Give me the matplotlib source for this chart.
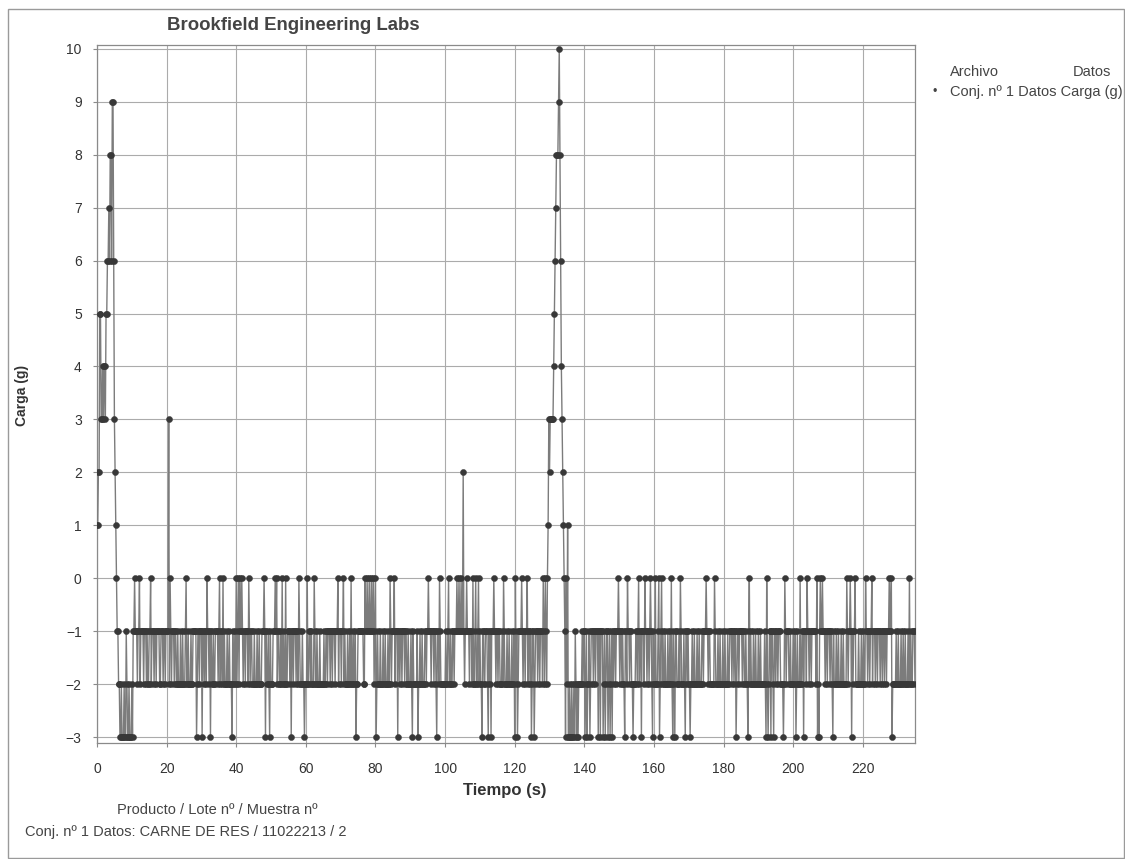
import numpy as np
import matplotlib
matplotlib.use("Agg")
import matplotlib.pyplot as plt
from matplotlib.patches import Rectangle

plt.rcParams['font.family'] = ['Liberation Sans', 'DejaVu Sans']

# ---------------- text ----------------
title = "Brookfield Engineering Labs"
x_label = "Tiempo (s)"
y_label = "Carga (g)"
x_ticks = [0, 20, 40, 60, 80, 100, 120, 140, 160, 180, 200, 220]
y_ticks = [-3, -2, -1, 0, 1, 2, 3, 4, 5, 6, 7, 8, 9, 10]
legend_header_left = "Archivo"
legend_header_right = "Datos"
legend_entry = "Conj. nº 1 Datos Carga (g)"
footer_line1 = "Producto / Lote nº / Muestra nº"
footer_line2 = "Conj. nº 1 Datos: CARNE DE RES / 11022213 / 2"

# ---------------- data ----------------
# load codes: c=-3, b=-2, a=-1, o=0, digits = positive grams, T=10
CODE = {'c': -3, 'b': -2, 'a': -1, 'o': 0, '1': 1, '2': 2, '3': 3, '4': 4,
        '5': 5, '6': 6, '7': 7, '8': 8, '9': 9, 'T': 10}
DT = 0.2  # sampling interval, s

# first peak, 0 s .. 10.2 s
peak1_start = 0.0
peak1_codes = ("1122553343" "4435566768" "86996321oa"
               "abbccbcccb" "ccabccbccc" "bc")

# second peak, 129.6 s .. 139.8 s
peak2_start = 129.6
peak2_codes = ("1323333345" "678889T864" "321oacob1c"
               "cbccbccbca" "bcbcbbbbba" "ba")

# noisy plateau 1: 10.4 s .. 129.4 s
# run lengths (samples) alternating between -1 g and -2 g
band1_start = 10.4
band1_end = 129.4
band1_runs = ("2131224131" "1231312142" "3121512131" "2213121322" "1312612131"
              "2121313212" "4121231312" "1322131251" "2131212313" "1213721213"
              "3121221312" "1231413121" "2312131221" "1412131512" "2131213132"
              "3122131214" "1213121631" "2121312213" "1312131221" "4131212131"
              "2213121513" "1213212131" "3121312712" "1312213121" "2141213131"
              "1213121322" "3121512121" "2312131213" "1213126121" "3121213131"
              "2131221312" "1412131213" "2121312131" "3121213512" "1312121312")
band1_no_minus2 = [(75.0, 76.5)]
band1_zero = [10.9, 12.2, 15.5, 21.0, 25.6, 31.7, 35.3, 36.3, 40.1, 40.6,
              41.0, 41.5, 43.5, 48.0, 51.1, 51.6, 53.1, 54.3, 57.9, 60.4,
              62.4, 69.2, 70.8, 73.0, 77.0, 77.6, 78.2, 78.8, 79.4, 80.0,
              84.2, 85.4, 95.2, 98.5, 101.1, 103.4, 104.0, 104.6, 106.2,
              108.1, 108.8, 109.6, 114.1, 116.8, 120.3, 122.0, 123.6, 128.2,
              128.8, 129.4]
band1_minus3 = [28.6, 30.1, 32.6, 38.7, 48.5, 49.7, 55.8, 59.7, 74.3, 80.3,
                86.4, 90.6, 92.3, 97.6, 110.7, 112.4, 113.2, 119.9, 120.7,
                124.9, 125.6]
band1_peaks = [(20.7, 3), (105.2, 2)]

# noisy plateau 2: 140 s .. 235 s
band2_start = 140.0
band2_end = 235.0
band2_runs = ("1213213121" "3121412131" "2131215121" "1321312213" "2121613121"
              "3122131312" "1213121412" "2312131221" "1512131213" "2131212713"
              "1213121312" "3121312141" "2213121312" "1312151213" "2121312131"
              "4121321312" "1213122131" "3121612121" "2131213122" "1312131214"
              "2121312513" "1213212131" "3121312121" "2131271213" "1212131312"
              "3121213121" "2131412131" "1213121312")
band2_no_minus1 = [(196.3, 197.2)]
band2_zero = [149.8, 152.3, 155.5, 157.3, 159.1, 160.5, 161.3, 162.2, 165.1,
              167.5, 175.0, 177.3, 187.4, 192.4, 197.7, 202.0, 204.0, 206.8,
              207.8, 208.4, 215.4, 216.4, 217.8, 220.9, 222.6, 227.7, 228.2,
              233.4]
band2_minus3 = [140.2, 140.8, 141.6, 144.1, 144.6, 145.4, 146.0, 146.8,
                147.4, 147.9, 151.7, 153.9, 156.5, 159.5, 161.7, 165.3, 166.1,
                168.9, 170.3, 183.6, 186.9, 192.2, 192.8, 193.6, 194.3, 197.2,
                200.8, 203.0, 207.0, 207.4, 211.4, 216.8, 228.4]


def decode_codes(start, codes):
    t = start + DT * np.arange(len(codes))
    v = np.array([CODE[ch] for ch in codes], dtype=float)
    return t, v


def decode_band(start, end, runs, zero, minus3, peaks=(), no_m1=(), no_m2=()):
    n = int(round((end - start) / DT)) + 1
    vals = []
    level = -1
    for ch in runs:
        vals.extend([level] * int(ch))
        level = -3 - level
    v = np.array(vals[:n], dtype=float)
    t = start + DT * np.arange(n)
    for a, b in no_m1:
        v[(t >= a) & (t <= b) & (v == -1)] = -2
    for a, b in no_m2:
        v[(t >= a) & (t <= b) & (v == -2)] = -1

    def idx(x):
        return int(round((x - start) / DT))
    for x in zero:
        v[idx(x)] = 0
    for x in minus3:
        v[idx(x)] = -3
    for x, val in peaks:
        v[idx(x)] = val
    return t, v


parts = [
    decode_codes(peak1_start, peak1_codes),
    decode_band(band1_start, band1_end, band1_runs, band1_zero, band1_minus3,
                peaks=band1_peaks, no_m2=band1_no_minus2),
    decode_codes(peak2_start, peak2_codes),
    decode_band(band2_start, band2_end, band2_runs, band2_zero, band2_minus3,
                no_m1=band2_no_minus1),
]
times = np.concatenate([p[0] for p in parts])
loads = np.concatenate([p[1] for p in parts])

# ---------------- figure ----------------
W, H = 1125, 859
fig = plt.figure(figsize=(W / 100, H / 100), dpi=100)
fig.patch.set_facecolor('white')


def fx(px):
    return px / W


def fy(py):
    return 1 - py / H


ax_left, ax_right, ax_top, ax_bottom = 97, 915, 45, 743
ax = fig.add_axes([fx(ax_left), fy(ax_bottom), (ax_right - ax_left) / W,
                   (ax_bottom - ax_top) / H])

ax.plot(times, loads, color='#7c7c7c', lw=1.0, zorder=3)
ax.plot(times, loads, ls='none', marker='o', ms=4.4, color='#383838',
        mec='#383838', mew=0.3, zorder=4)

ax.set_xlim(0, 235)
ax.set_ylim(-3.11, 10.07)
ax.set_xticks(x_ticks)
ax.set_yticks(y_ticks)
ax.grid(True, color='#ababab', lw=0.8)
ax.set_axisbelow(True)
for s in ax.spines.values():
    s.set_color('#8a8a8a')
    s.set_linewidth(0.9)
ax.tick_params(axis='both', colors='#8a8a8a', labelcolor='#333333',
               labelsize=10, length=3, width=0.8)
ax.tick_params(axis='x', pad=11)
ax.tick_params(axis='y', pad=8)

# titles and labels
fig.text(fx(293), fy(25), title, ha='center', va='center', fontsize=13.4,
         fontweight='bold', color='#444444')
fig.text(fx(22), fy(395), y_label, ha='center', va='center', rotation=90,
         fontsize=10, fontweight='bold', color='#333333')
fig.text(fx(505), fy(790), x_label, ha='center', va='center', fontsize=12,
         fontweight='bold', color='#333333')

# legend
fig.text(fx(950), fy(72), legend_header_left, ha='left', va='center',
         fontsize=10.5, color='#444444')
fig.text(fx(1073), fy(72), legend_header_right, ha='left', va='center',
         fontsize=10.5, color='#444444')
fig.text(fx(935), fy(92), "•", ha='center', va='center', fontsize=9,
         color='#444444')
fig.text(fx(950), fy(92), legend_entry, ha='left', va='center',
         fontsize=10.5, color='#444444')

# footer
fig.text(fx(217), fy(810), footer_line1, ha='center', va='center',
         fontsize=10.5, color='#444444')
fig.text(fx(25), fy(832), footer_line2, ha='left', va='center',
         fontsize=10.5, color='#444444')

# outer page frame
fig.patches.append(Rectangle((fx(8), fy(858)), fx(1124) - fx(8),
                             fy(9) - fy(858), transform=fig.transFigure,
                             fill=False, edgecolor='#9a9a9a', lw=1.0))

fig.savefig("out.png", dpi=100)
